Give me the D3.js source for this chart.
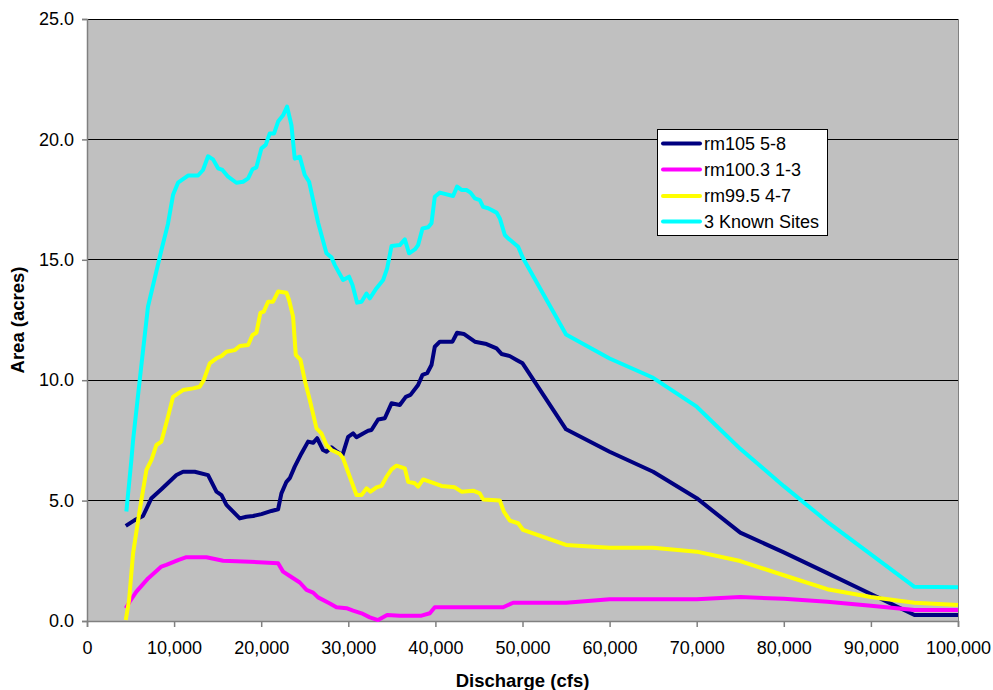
<!DOCTYPE html>
<html><head><meta charset="utf-8">
<script src="https://cdn.jsdelivr.net/npm/d3@7"></script>
<style>body{margin:0;background:#fff}svg{display:block}text{font-family:Arial,"Liberation Sans",sans-serif}</style>
</head><body>
<svg id="c" width="993" height="690"></svg>
<script>
const seriesNames = ["rm105 5-8", "rm100.3 1-3", "rm99.5 4-7", "3 Known Sites"];
const seriesColors = ["#000080", "#FF00FF", "#FFFF00", "#00FFFF"];
const xTicks = [0,10000,20000,30000,40000,50000,60000,70000,80000,90000,100000];
const yTicks = [0,5,10,15,20,25];

const rm105 = [[4450,3.95],[5480,4.19],[6430,4.36],[7400,5.1],[8540,5.47],[10270,6.06],[11030,6.2],[12370,6.2],[13900,6.06],[14860,5.37],[15440,5.23],[16010,4.82],[17540,4.26],[18300,4.33],[19070,4.36],[20030,4.44],[21180,4.57],[21940,4.64],[22320,5.3],[22900,5.78],[23280,5.93],[23850,6.41],[24620,6.96],[25380,7.45],[25960,7.4],[26420,7.59],[27100,7.1],[27490,7.03],[28070,7.21],[28720,7.03],[29330,6.89],[29980,7.65],[30550,7.79],[30940,7.63],[31700,7.79],[32270,7.9],[32660,7.93],[33420,8.37],[34190,8.42],[34960,9.04],[35910,8.97],[36600,9.31],[37140,9.39],[38010,9.8],[38520,10.22],[39050,10.29],[39550,10.63],[39930,11.39],[40510,11.6],[41960,11.6],[42490,11.97],[43260,11.92],[44530,11.6],[45870,11.5],[47020,11.32],[47590,11.09],[48550,11.0],[49320,10.84],[50010,10.7],[55000,7.96],[60000,7.03],[65000,6.2],[70000,5.1],[75000,3.67],[80000,2.85],[85000,1.99],[90000,1.12],[95000,0.25],[100000,0.25]];

const rm1003 = [[4450,0.53],[4900,0.8],[5670,1.22],[7010,1.77],[8540,2.26],[9110,2.33],[10450,2.53],[11410,2.65],[13710,2.65],[15620,2.5],[18690,2.46],[21940,2.4],[22510,2.05],[23280,1.87],[24430,1.6],[25200,1.29],[25960,1.18],[26530,0.98],[27880,0.73],[28640,0.57],[29790,0.53],[30550,0.43],[31520,0.32],[32470,0.15],[33420,0.04],[34460,0.25],[35910,0.22],[38400,0.22],[39360,0.32],[39930,0.57],[47780,0.57],[48930,0.76],[55000,0.76],[60000,0.9],[65000,0.9],[70000,0.9],[75000,1.0],[80000,0.92],[85000,0.8],[90000,0.63],[95000,0.46],[100000,0.46]];

const rm995 = [[4450,0.04],[4830,0.87],[5290,2.81],[6050,4.6],[6820,6.27],[7400,6.69],[7970,7.31],[8540,7.45],[9300,8.48],[9880,9.31],[11030,9.59],[12170,9.66],[12940,9.73],[13400,10.0],[14090,10.7],[14860,10.91],[15440,11.0],[16010,11.18],[16960,11.25],[17540,11.42],[18500,11.46],[19000,11.88],[19450,11.97],[19910,12.8],[20290,12.85],[20790,13.26],[21360,13.26],[21940,13.68],[22900,13.63],[23200,13.33],[23660,12.64],[23970,11.05],[24510,10.84],[25000,10.0],[25580,9.18],[26350,8.0],[26920,7.79],[27490,7.31],[28070,7.1],[29020,6.94],[29400,6.76],[30170,5.99],[30940,5.23],[31520,5.23],[32090,5.51],[32550,5.37],[33240,5.55],[33810,5.61],[34390,5.99],[34960,6.3],[35530,6.45],[36490,6.34],[36870,5.78],[37640,5.72],[38010,5.58],[38590,5.88],[39740,5.74],[40700,5.61],[42230,5.55],[43000,5.37],[44330,5.41],[45100,5.3],[45480,5.05],[47400,5.0],[47860,4.54],[48550,4.17],[49500,4.06],[50070,3.78],[55000,3.16],[60000,3.04],[65000,3.04],[70000,2.88],[75000,2.49],[80000,1.9],[85000,1.32],[90000,1.0],[95000,0.76],[100000,0.66]];

const knownSites = [[4520,4.55],[5100,6.7],[5290,7.5],[6050,10.0],[7000,13.05],[8540,15.4],[9300,16.5],[9880,17.7],[10450,18.2],[11600,18.5],[12750,18.5],[13320,18.73],[13900,19.3],[14470,19.17],[15050,18.8],[15550,18.73],[16200,18.45],[17150,18.2],[17920,18.24],[18500,18.38],[19000,18.76],[19450,18.84],[20030,19.63],[20520,19.77],[20980,20.25],[21480,20.25],[21940,20.74],[22510,21.0],[22970,21.36],[23470,20.6],[23850,19.2],[24430,19.28],[25000,18.52],[25500,18.24],[26530,16.55],[27490,15.27],[28070,15.1],[28450,14.78],[29400,14.16],[30090,14.3],[30480,13.95],[31010,13.22],[31520,13.26],[32090,13.6],[32470,13.4],[33240,13.82],[34000,14.16],[34460,14.64],[34960,15.57],[35910,15.61],[36490,15.85],[36980,15.27],[37640,15.43],[38010,15.61],[38520,16.3],[39170,16.35],[39550,16.52],[39930,17.62],[40510,17.79],[42030,17.65],[42490,18.04],[43000,17.9],[43570,17.9],[44030,17.79],[44530,17.55],[45100,17.48],[45480,17.2],[46060,17.14],[47020,16.96],[47400,16.72],[47970,16.03],[48350,15.89],[49500,15.54],[50070,15.06],[55000,11.9],[60000,10.9],[65000,10.1],[70000,8.9],[75000,7.15],[80000,5.6],[85000,4.12],[90000,2.77],[95000,1.42],[100000,1.4]];

const allSeries = [rm105, rm1003, rm995, knownSites];

const L = 87, T = 19, R = 958, B = 621;
const svg = d3.select("#c");
const x = d3.scaleLinear().domain([0,100000]).range([L,R]);
const y = d3.scaleLinear().domain([0,25]).range([B,T]);

svg.append("rect").attr("x",L).attr("y",T).attr("width",R-L).attr("height",B-T).attr("fill","#C0C0C0");

// gridlines
svg.append("g").selectAll("line").data(yTicks.filter(d=>d>0)).join("line")
  .attr("x1",L).attr("x2",R).attr("y1",d=>y(d)).attr("y2",d=>y(d))
  .attr("stroke","#000").attr("stroke-width",1).attr("shape-rendering","crispEdges");

// plot border right
svg.append("line").attr("x1",R).attr("x2",R).attr("y1",T).attr("y2",B).attr("stroke","#808080").attr("shape-rendering","crispEdges");

// axes
const fmt = d3.format(",");
const xAxis = d3.axisBottom(x).tickValues(xTicks).tickFormat(fmt).tickSize(6).tickPadding(14);
const yAxis = d3.axisLeft(y).tickValues(yTicks).tickFormat(d3.format(".1f")).tickSize(5).tickPadding(8);
const gx = svg.append("g").attr("transform",`translate(0,${B})`).call(xAxis);
const gy = svg.append("g").attr("transform",`translate(${L},0)`).call(yAxis);
[gx,gy].forEach(g=>{
  g.select(".domain").attr("stroke","#808080").attr("stroke-width",1.5);
  g.selectAll(".tick line").attr("stroke","#808080").attr("stroke-width",1.5);
  g.selectAll("text").attr("font-size",18).attr("fill","#000").attr("font-family","Arial, 'Liberation Sans', sans-serif");
});

// lines
const line = d3.line().x(d=>x(d[0])).y(d=>y(d[1]));
svg.append("g").selectAll("path").data(allSeries).join("path")
  .attr("d",line).attr("fill","none")
  .attr("stroke",(d,i)=>seriesColors[i]).attr("stroke-width",4)
  .attr("stroke-linejoin","round").attr("stroke-linecap","butt");

// titles
svg.append("text").attr("x",(L+R)/2).attr("y",687).attr("text-anchor","middle")
  .attr("font-size",18.5).attr("font-weight","bold").text("Discharge (cfs)");
svg.append("text").attr("transform",`translate(24,${(T+B)/2}) rotate(-90)`).attr("text-anchor","middle")
  .attr("font-size",18.5).attr("font-weight","bold").text("Area (acres)");

// legend
const lg = svg.append("g");
lg.append("rect").attr("x",657.5).attr("y",129.5).attr("width",170).attr("height",106)
  .attr("fill","#fff").attr("stroke","#000").attr("stroke-width",1);
const rowY = [143.5,169.5,196,221.5];
seriesNames.forEach((n,i)=>{
  lg.append("line").attr("x1",663).attr("x2",700).attr("y1",rowY[i]).attr("y2",rowY[i])
    .attr("stroke",seriesColors[i]).attr("stroke-width",4).attr("stroke-linecap","round");
  lg.append("text").attr("x",704).attr("y",rowY[i]).attr("dy","0.35em")
    .attr("font-size",18).text(n);
});
</script>
</body></html>
